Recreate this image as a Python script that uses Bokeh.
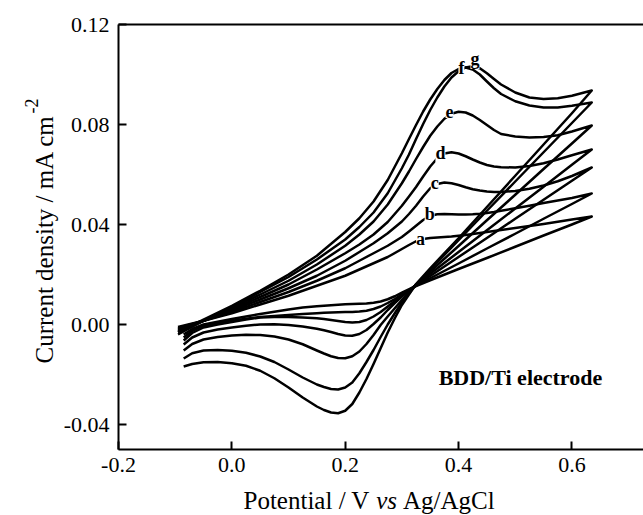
import numpy as np
from bokeh.plotting import figure
from bokeh.models import Range1d, FixedTicker, PrintfTickFormatter, LinearAxis, Label
from bokeh.layouts import row, column
from bokeh.core.properties import value
from bokeh.embed import file_html
from bokeh.resources import INLINE

# ---------------- data ----------------
x_ticks = [-0.2, 0.0, 0.2, 0.4, 0.6]
y_ticks = [-0.04, 0.0, 0.04, 0.08, 0.12]

# potential of the forward (anodic) scan, V vs Ag/AgCl
potential_fwd = [-0.095, -0.05, 0.0, 0.05, 0.1, 0.15, 0.2, 0.225, 0.25, 0.275,
                 0.3, 0.3125, 0.325, 0.3375, 0.35, 0.3625, 0.375, 0.3875, 0.4, 0.4125,
                 0.425, 0.4375, 0.45, 0.4625, 0.475, 0.5, 0.525, 0.55, 0.575, 0.6, 0.635]
# potential of the reverse (cathodic) scan
potential_rev = [0.635, 0.6, 0.55, 0.5, 0.45, 0.4, 0.35, 0.325, 0.3, 0.2875,
                 0.275, 0.2625, 0.25, 0.2375, 0.225, 0.2125, 0.2, 0.1875, 0.175, 0.1625,
                 0.15, 0.125, 0.1, 0.075, 0.05, 0.025, 0.0, -0.025, -0.05, -0.07, -0.085]

# current density, mA cm-2
fwd_a = [-0.001, 0.0015, 0.0045, 0.008, 0.0115, 0.0155, 0.0195, 0.022, 0.0245, 0.027,
         0.0302, 0.0318, 0.0333, 0.0342, 0.0346, 0.0348, 0.035, 0.0352, 0.0355, 0.0358,
         0.0362, 0.0366, 0.037, 0.0374, 0.0378, 0.0386, 0.0394, 0.0402, 0.0411, 0.042, 0.0432]
rev_a = [0.0432, 0.040, 0.0356, 0.0311, 0.0266, 0.0222, 0.0177, 0.0154, 0.0127, 0.0113,
         0.0101, 0.0092, 0.0087, 0.0084, 0.0083, 0.0082, 0.0081, 0.0079, 0.0077, 0.0075,
         0.0073, 0.0068, 0.006, 0.0051, 0.0042, 0.0032, 0.0022, 0.0011, 0.0, -0.0018, -0.004]

fwd_b = [-0.0015, 0.0015, 0.005, 0.009, 0.013, 0.0175, 0.0225, 0.0255, 0.0285, 0.0315,
         0.035, 0.0372, 0.0395, 0.0418, 0.0435, 0.0441, 0.0442, 0.0441, 0.044, 0.044,
         0.0441, 0.0443, 0.0446, 0.045, 0.0455, 0.0465, 0.0475, 0.0486, 0.0496, 0.0506, 0.0524]
rev_b = [0.0524, 0.0482, 0.0423, 0.0363, 0.0304, 0.0244, 0.0185, 0.0155, 0.012, 0.0102,
         0.0086, 0.0072, 0.0062, 0.0055, 0.0052, 0.005, 0.005, 0.0049, 0.0048, 0.0047,
         0.0045, 0.0042, 0.0038, 0.0034, 0.003, 0.0023, 0.0015, 0.0005, -0.0005, -0.0025, -0.0052]

fwd_c = [-0.002, 0.0015, 0.0055, 0.010, 0.0145, 0.0195, 0.0255, 0.029, 0.0325, 0.0365,
         0.0412, 0.0442, 0.0475, 0.0512, 0.0545, 0.0562, 0.0568, 0.0565, 0.0558, 0.0549,
         0.0541, 0.0536, 0.0532, 0.053, 0.053, 0.0534, 0.0543, 0.0556, 0.0573, 0.0594, 0.0628]
rev_c = [0.0628, 0.0575, 0.0499, 0.0423, 0.0346, 0.027, 0.0194, 0.0156, 0.0116, 0.0094,
         0.0072, 0.005, 0.0032, 0.0018, 0.001, 0.0008, 0.001, 0.0014, 0.0018, 0.0022,
         0.0025, 0.0028, 0.003, 0.003, 0.0028, 0.002, 0.001, 0.0, -0.0012, -0.0034, -0.0064]

fwd_d = [-0.0025, 0.0015, 0.006, 0.011, 0.016, 0.022, 0.0285, 0.032, 0.036, 0.041,
         0.0475, 0.0512, 0.055, 0.0592, 0.0632, 0.0665, 0.0684, 0.0689, 0.0684, 0.0673,
         0.066, 0.0648, 0.0638, 0.0632, 0.0629, 0.0628, 0.0634, 0.0645, 0.066, 0.0677, 0.070]
rev_d = [0.070, 0.0639, 0.0551, 0.0464, 0.0377, 0.029, 0.0203, 0.0159, 0.0112, 0.0086,
         0.0058, 0.0028, 0.0002, -0.0022, -0.0038, -0.0045, -0.0044, -0.0038, -0.003, -0.0023,
         -0.0017, -0.0008, -0.0002, 0.0001, 0.0, -0.0005, -0.0012, -0.002, -0.0032, -0.0052, -0.008]

fwd_e = [-0.003, 0.0015, 0.0065, 0.012, 0.0175, 0.024, 0.0315, 0.036, 0.0412, 0.048,
         0.0565, 0.0612, 0.0662, 0.071, 0.0755, 0.0792, 0.0823, 0.0843, 0.0851, 0.0848,
         0.0836, 0.0818, 0.0798, 0.0778, 0.0762, 0.0752, 0.0748, 0.075, 0.0757, 0.0772, 0.0796]
rev_e = [0.0796, 0.0724, 0.0622, 0.0519, 0.0417, 0.0314, 0.0212, 0.016, 0.0098, 0.0065,
         0.0032, -0.0002, -0.0042, -0.0078, -0.0108, -0.0127, -0.0135, -0.0134, -0.0127, -0.0116,
         -0.0104, -0.0079, -0.006, -0.0048, -0.0042, -0.0041, -0.0044, -0.005, -0.006, -0.0078, -0.0104]

fwd_f = [-0.003, 0.002, 0.0075, 0.0135, 0.020, 0.0275, 0.037, 0.0425, 0.0492, 0.0578,
         0.0685, 0.0742, 0.0798, 0.0852, 0.090, 0.0942, 0.0978, 0.1006, 0.1022, 0.1028,
         0.102, 0.1, 0.0972, 0.0945, 0.0922, 0.0893, 0.0876, 0.0868, 0.0868, 0.0875, 0.0888]
rev_f = [0.0888, 0.0806, 0.0689, 0.0572, 0.0455, 0.0337, 0.022, 0.016, 0.0088, 0.0045,
         0.0, -0.005, -0.0102, -0.015, -0.0195, -0.0232, -0.0252, -0.026, -0.0258, -0.025,
         -0.024, -0.0212, -0.018, -0.015, -0.0128, -0.0113, -0.0105, -0.0102, -0.0104, -0.0115, -0.0136]

fwd_g = [-0.004, 0.0015, 0.007, 0.013, 0.019, 0.026, 0.034, 0.039, 0.0448, 0.0525,
         0.0625, 0.068, 0.0742, 0.0802, 0.0858, 0.0908, 0.0952, 0.0988, 0.1013, 0.1028,
         0.1033, 0.1025, 0.1005, 0.0982, 0.096, 0.0928, 0.0908, 0.0902, 0.0905, 0.0915, 0.0936]
rev_g = [0.0936, 0.0845, 0.072, 0.0595, 0.047, 0.0345, 0.0225, 0.0162, 0.0078, 0.0025,
         -0.0032, -0.0095, -0.0158, -0.0218, -0.0272, -0.0318, -0.0345, -0.0355, -0.0352, -0.0342,
         -0.0328, -0.0292, -0.0252, -0.0215, -0.0185, -0.0165, -0.0155, -0.015, -0.0151, -0.0158, -0.0168]

curve_names = ["a", "b", "c", "d", "e", "f", "g"]
forward = [fwd_a, fwd_b, fwd_c, fwd_d, fwd_e, fwd_f, fwd_g]
reverse = [rev_a, rev_b, rev_c, rev_d, rev_e, rev_f, rev_g]
# where each curve letter sits (on the anodic peak)
label_x = [0.333, 0.349, 0.358, 0.368, 0.384, 0.405, 0.429]
label_y = [0.0342, 0.0442, 0.0568, 0.0688, 0.0852, 0.1025, 0.1062]

FONT = "Liberation Serif"
LEFT_W = 60      # width of the strip holding the y-axis title
BOTTOM_H = 30    # height of the strip holding the x-axis title
TOTAL_W, TOTAL_H = 643, 515

# ---------------- main figure ----------------
main_w = TOTAL_W - LEFT_W
main_h = TOTAL_H - BOTTOM_H
p = figure(width=main_w, height=main_h, title=None,
           x_range=Range1d(-0.2, 0.7263), y_range=Range1d(-0.05, 0.12),
           output_backend="svg", toolbar_location=None,
           min_border_left=115 - LEFT_W, min_border_right=0, min_border_top=24,
           min_border_bottom=main_h - 449)
p.grid.visible = False
p.outline_line_color = None
p.background_fill_color = "white"
p.border_fill_color = "white"

for ax in (p.xaxis[0], p.yaxis[0]):
    ax.axis_line_width = 2
    ax.axis_line_color = "black"
    ax.major_tick_in = 8
    ax.major_tick_out = 0
    ax.major_tick_line_width = 2
    ax.major_tick_line_color = "black"
    ax.minor_tick_line_color = None
    ax.major_label_text_font = FONT
    ax.major_label_text_font_size = "22px"
    ax.major_label_text_color = "black"
    ax.axis_label_standoff = 0

p.xaxis.ticker = FixedTicker(ticks=x_ticks)
p.xaxis.formatter = PrintfTickFormatter(format="%.1f")
p.xaxis.major_label_standoff = 8
p.yaxis.ticker = FixedTicker(ticks=y_ticks)
p.yaxis.formatter = PrintfTickFormatter(format="%.2f")
p.yaxis.major_label_standoff = 9

top = LinearAxis(ticker=FixedTicker(ticks=[]), axis_line_width=2, axis_line_color="black",
                 major_tick_line_color=None, minor_tick_line_color=None,
                 major_label_text_font_size="0px", major_label_standoff=0)
p.add_layout(top, "above")

for name, fw, rv in zip(curve_names, forward, reverse):
    xs = potential_fwd + potential_rev
    ys = fw + rv
    p.line(xs, ys, line_color="black", line_width=2.5, line_join="round")

for name, lx, ly in zip(curve_names, label_x, label_y):
    p.add_layout(Label(x=lx, y=ly, text=name, text_font=FONT, text_font_style="bold",
                       text_font_size="18px", text_align="center", text_baseline="middle",
                       text_color="black", background_fill_color="white"))

p.add_layout(Label(x=0.3649, y=-0.0212, text="BDD/Ti electrode", text_font=FONT,
                   text_font_style="bold", text_font_size="22px", text_align="left",
                   text_baseline="alphabetic", text_color="black"))


# ---------------- strips that hold the axis titles ----------------
def strip(w, h, x0, x1, y0, y1):
    s = figure(frame_width=w, frame_height=h, title=None,
               x_range=Range1d(x0, x1), y_range=Range1d(y0, y1),
               output_backend="svg", toolbar_location=None,
               x_axis_type=None, y_axis_type=None,
               min_border=0, min_border_left=0, min_border_right=0,
               min_border_top=0, min_border_bottom=0)
    s.grid.visible = False
    s.outline_line_color = None
    s.background_fill_color = "white"
    s.border_fill_color = "white"
    return s


# left strip (y measured up from its bottom; shifted to match the page as rendered)
YSHIFT_LEFT = 23
ly_ = strip(LEFT_W, main_h, 0, LEFT_W, 0, main_h)
ly_.text(x=[44], y=[main_h - 362 + YSHIFT_LEFT], text=["Current density / mA cm"],
         text_font=value(FONT), text_font_size="25px", text_align="left",
         text_baseline="alphabetic", angle=np.pi / 2, text_color="black")
ly_.text(x=[31], y=[main_h - 112 + YSHIFT_LEFT], text=["-2"], text_font=value(FONT),
         text_font_size="18px", text_align="left", text_baseline="alphabetic",
         angle=np.pi / 2, text_color="black")

# bottom strip spanning the whole page width
bx = strip(TOTAL_W, BOTTOM_H, 0, TOTAL_W, 0, BOTTOM_H)
xt_base = 15.5
bx.text(x=[243], y=[xt_base], text=["Potential / V"], text_font=value(FONT),
        text_font_size="25px", text_align="left", text_baseline="alphabetic", text_color="black")
bx.text(x=[375.7], y=[xt_base], text=["vs"], text_font=value(FONT), text_font_style="italic",
        text_font_size="25px", text_align="left", text_baseline="alphabetic", text_color="black")
bx.text(x=[402.5], y=[xt_base], text=["Ag/AgCl"], text_font=value(FONT),
        text_font_size="25px", text_align="left", text_baseline="alphabetic", text_color="black")

layout = column(row(ly_, p, spacing=0), bx, spacing=0)

open("out.html", "w").write(file_html(layout, INLINE))
